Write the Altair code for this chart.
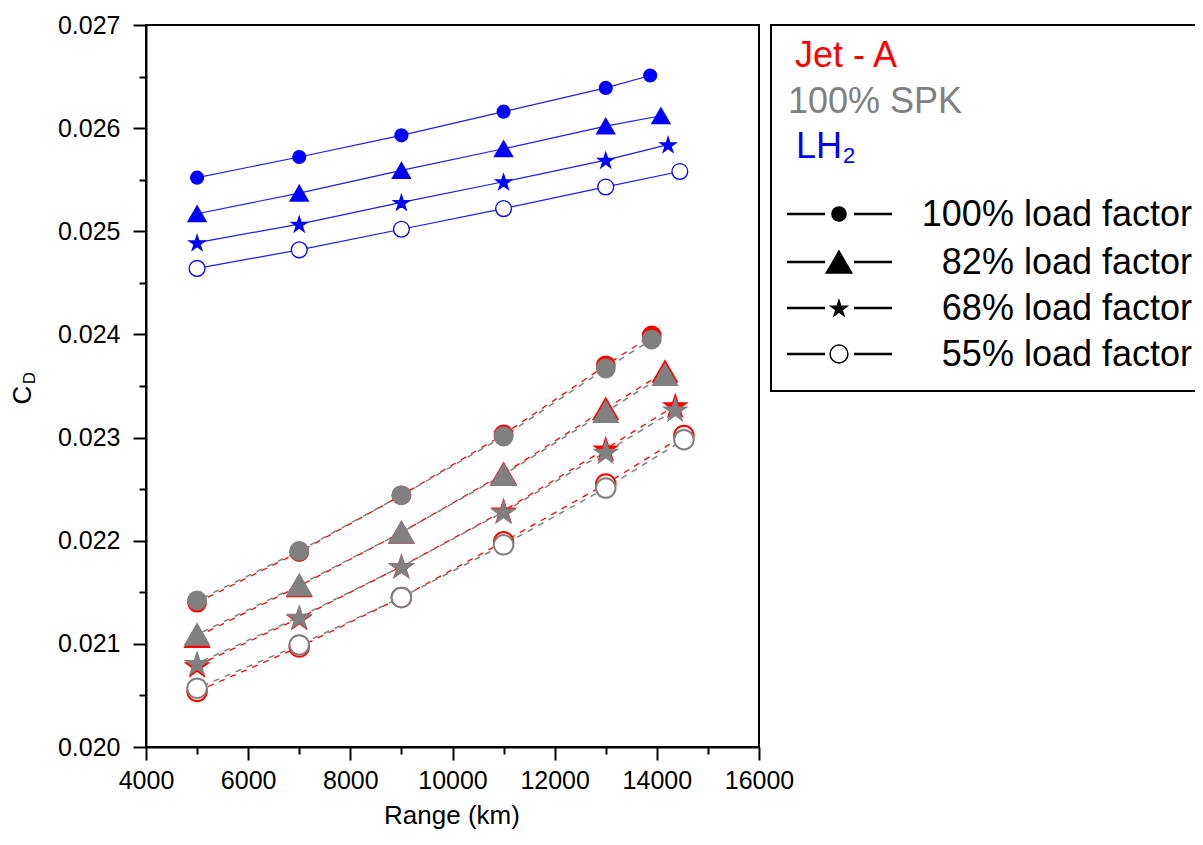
import altair as alt
import pandas as pd

# ---- data ----
load_factors = ["100%", "82%", "68%", "55%"]
std_ranges = [5000, 7000, 9000, 11000, 13000]
lh2_last_range = [13870, 14080, 14220, 14450]
jet_last_range = [13900, 14160, 14360, 14530]

lh2_cd_100 = [0.02552, 0.02572, 0.02593, 0.02616, 0.02639, 0.02651]
lh2_cd_82 = [0.02517, 0.02537, 0.02559, 0.02580, 0.02602, 0.02612]
lh2_cd_68 = [0.02489, 0.02507, 0.02528, 0.02548, 0.02569, 0.02584]
lh2_cd_55 = [0.02464, 0.02482, 0.02502, 0.02522, 0.02543, 0.02558]

spk_cd_100 = [0.02142, 0.02190, 0.02244, 0.02301, 0.02367, 0.02395]
spk_cd_82 = [0.02109, 0.02157, 0.02208, 0.02264, 0.02325, 0.02361]
spk_cd_68 = [0.02081, 0.02126, 0.02175, 0.02228, 0.02286, 0.02327]
spk_cd_55 = [0.02057, 0.02099, 0.02145, 0.02196, 0.02251, 0.02298]

jet_cd_100 = [0.02140, 0.02189, 0.02244, 0.02303, 0.02370, 0.02399]
jet_cd_82 = [0.02107, 0.02156, 0.02208, 0.02265, 0.02328, 0.02364]
jet_cd_68 = [0.02079, 0.02125, 0.02175, 0.02229, 0.02289, 0.02331]
jet_cd_55 = [0.02054, 0.02097, 0.02145, 0.02199, 0.02255, 0.02302]

x_ticks = list(range(4000, 16001, 1000))
y_ticks = [0.020, 0.0205, 0.021, 0.0215, 0.022, 0.0225, 0.023, 0.0235,
           0.024, 0.0245, 0.025, 0.0255, 0.026, 0.0265, 0.027]

series = {
    "LH2": ([lh2_cd_100, lh2_cd_82, lh2_cd_68, lh2_cd_55], lh2_last_range),
    "SPK": ([spk_cd_100, spk_cd_82, spk_cd_68, spk_cd_55], jet_last_range),
    "Jet-A": ([jet_cd_100, jet_cd_82, jet_cd_68, jet_cd_55], jet_last_range),
}
rows = []
for fuel, (cds, lasts) in series.items():
    for lf, cd, last in zip(load_factors, cds, lasts):
        for r, v in zip(std_ranges + [last], cd):
            rows.append({"fuel": fuel, "lf": lf, "range": r, "cd": v})
df = pd.DataFrame(rows)

FONT = "Liberation Sans"
STAR = ("M0,-0.905L0.2245,-0.2135L0.9511,-0.2135L0.3633,0.2135L0.5878,0.9045"
        "L0,0.4775L-0.5878,0.9045L-0.3633,0.2135L-0.9511,-0.2135L-0.2245,-0.2135Z")
SHAPES = ["circle", "triangle-up", STAR, "circle"]
OPEN = [False, False, False, True]

x_minor = "datum.value % 2000 !== 0"
y_minor = "round(datum.value * 2000) % 2 === 1"

x_enc = alt.X("range:Q", scale=alt.Scale(domain=[4000, 16000], nice=False, zero=False),
              axis=alt.Axis(values=x_ticks, title=None, labelOverlap=False, labelFlush=False,
                            tickSize={"condition": {"test": x_minor, "value": 7}, "value": 13},
                            labelExpr=f"({x_minor}) ? '' : format(datum.value, 'd')",
                            labelPadding=8))
y_enc = alt.Y("cd:Q", scale=alt.Scale(domain=[0.020, 0.027], nice=False, zero=False),
              axis=alt.Axis(values=y_ticks, title=None, labelOverlap=False, labelFlush=False,
                            tickSize={"condition": {"test": y_minor, "value": 7}, "value": 13},
                            labelExpr=f"({y_minor}) ? '' : format(datum.value, '.3f')",
                            labelPadding=13))

base = alt.Chart(df)


def lines(fuel, color, dash=None, offset=0, width=1.3):
    kw = dict(color=color, strokeWidth=width)
    if dash:
        kw["strokeDash"] = dash
        kw["strokeDashOffset"] = offset
    return base.transform_filter(alt.datum.fuel == fuel).mark_line(**kw).encode(
        x=x_enc, y=y_enc, detail="lf:N", order="range:Q")


def points(fuel, color, sizes, stroke_w):
    out = []
    for lf, shp, sz, op in zip(load_factors, SHAPES, sizes, OPEN):
        out.append(base.transform_filter(
            (alt.datum.fuel == fuel) & (alt.datum.lf == lf)).mark_point(
            shape=shp, size=sz, opacity=1, strokeWidth=stroke_w,
            fill="white" if op else color, stroke=color).encode(x=x_enc, y=y_enc))
    return out


big_sizes = [320, 560, 480, 380]
small_sizes = [165, 330, 270, 250]

layers = [
    lines("Jet-A", "#ff0000", [6, 6], 0, 1.3),
    lines("SPK", "#808080", [6, 6], 6, 1.5),
]
layers += points("Jet-A", "#ff0000", big_sizes, 2)
layers += points("SPK", "#808080", big_sizes, 2)
layers.append(lines("LH2", "#1a1aff", None, 0, 1.2))
layers += points("LH2", "#0000ff", small_sizes, 1.3)

one = pd.DataFrame({"k": [0]})
ann = alt.Chart(one)


def text(t, x, y, size, color="black", align="left", baseline="alphabetic", angle=0):
    return ann.mark_text(text=t, align=align, baseline=baseline, font=FONT,
                         fontSize=size, color=color, angle=angle).encode(
        x=alt.value(x), y=alt.value(y))


# axis titles
layers += [
    text("Range (km)", 306, 791, 26, baseline="middle", align="center"),
    text("C", -123, 370, 26, baseline="middle", align="center", angle=270),
    text("D", -116, 353, 17, baseline="middle", align="center", angle=270),
]

# legend box
layers.append(ann.mark_rect(fill="white", stroke="black", strokeWidth=2).encode(
    x=alt.value(625), x2=alt.value(1070), y=alt.value(0), y2=alt.value(366)))

layers += [
    text("Jet - A", 649, 42, 36, color="#ff0000"),
    text("100% SPK", 642, 88, 36, color="#808080"),
    text("LH", 650, 133, 36, color="#0000ff"),
    text("2", 697, 138, 22, color="#0000ff"),
]

row_y = [189, 237, 283, 329]
leg_sizes = [200, 650, 280, 320]
leg_text = ["100% load factor", "82% load factor", "68% load factor", "55% load factor"]
for yy, shp, sz, op, tx in zip(row_y, SHAPES, leg_sizes, OPEN, leg_text):
    layers.append(ann.mark_rule(color="black", strokeWidth=2.5).encode(
        x=alt.value(641), x2=alt.value(679), y=alt.value(yy)))
    layers.append(ann.mark_rule(color="black", strokeWidth=2.5).encode(
        x=alt.value(708), x2=alt.value(746), y=alt.value(yy)))
    layers.append(ann.mark_point(shape=shp, size=sz, fill="white" if op else "black",
                                 stroke="black", strokeWidth=1.5, opacity=1).encode(
        x=alt.value(693), y=alt.value(yy)))
    layers.append(text(tx, 1046, yy + 1, 36, align="right", baseline="middle"))

chart = alt.layer(*layers).properties(
    width=613, height=722,
    autosize=alt.AutoSizeParams(type="none"),
    padding={"left": 138, "top": 17, "right": 436, "bottom": 88},
).configure_view(
    stroke="black", strokeWidth=2
).configure_axis(
    domainColor="black", domainWidth=2, tickColor="black", tickWidth=2,
    labelFont=FONT, labelFontSize=25, labelColor="black", grid=False,
)

chart.save("out.html", embed_options={"renderer": "svg", "actions": False})
